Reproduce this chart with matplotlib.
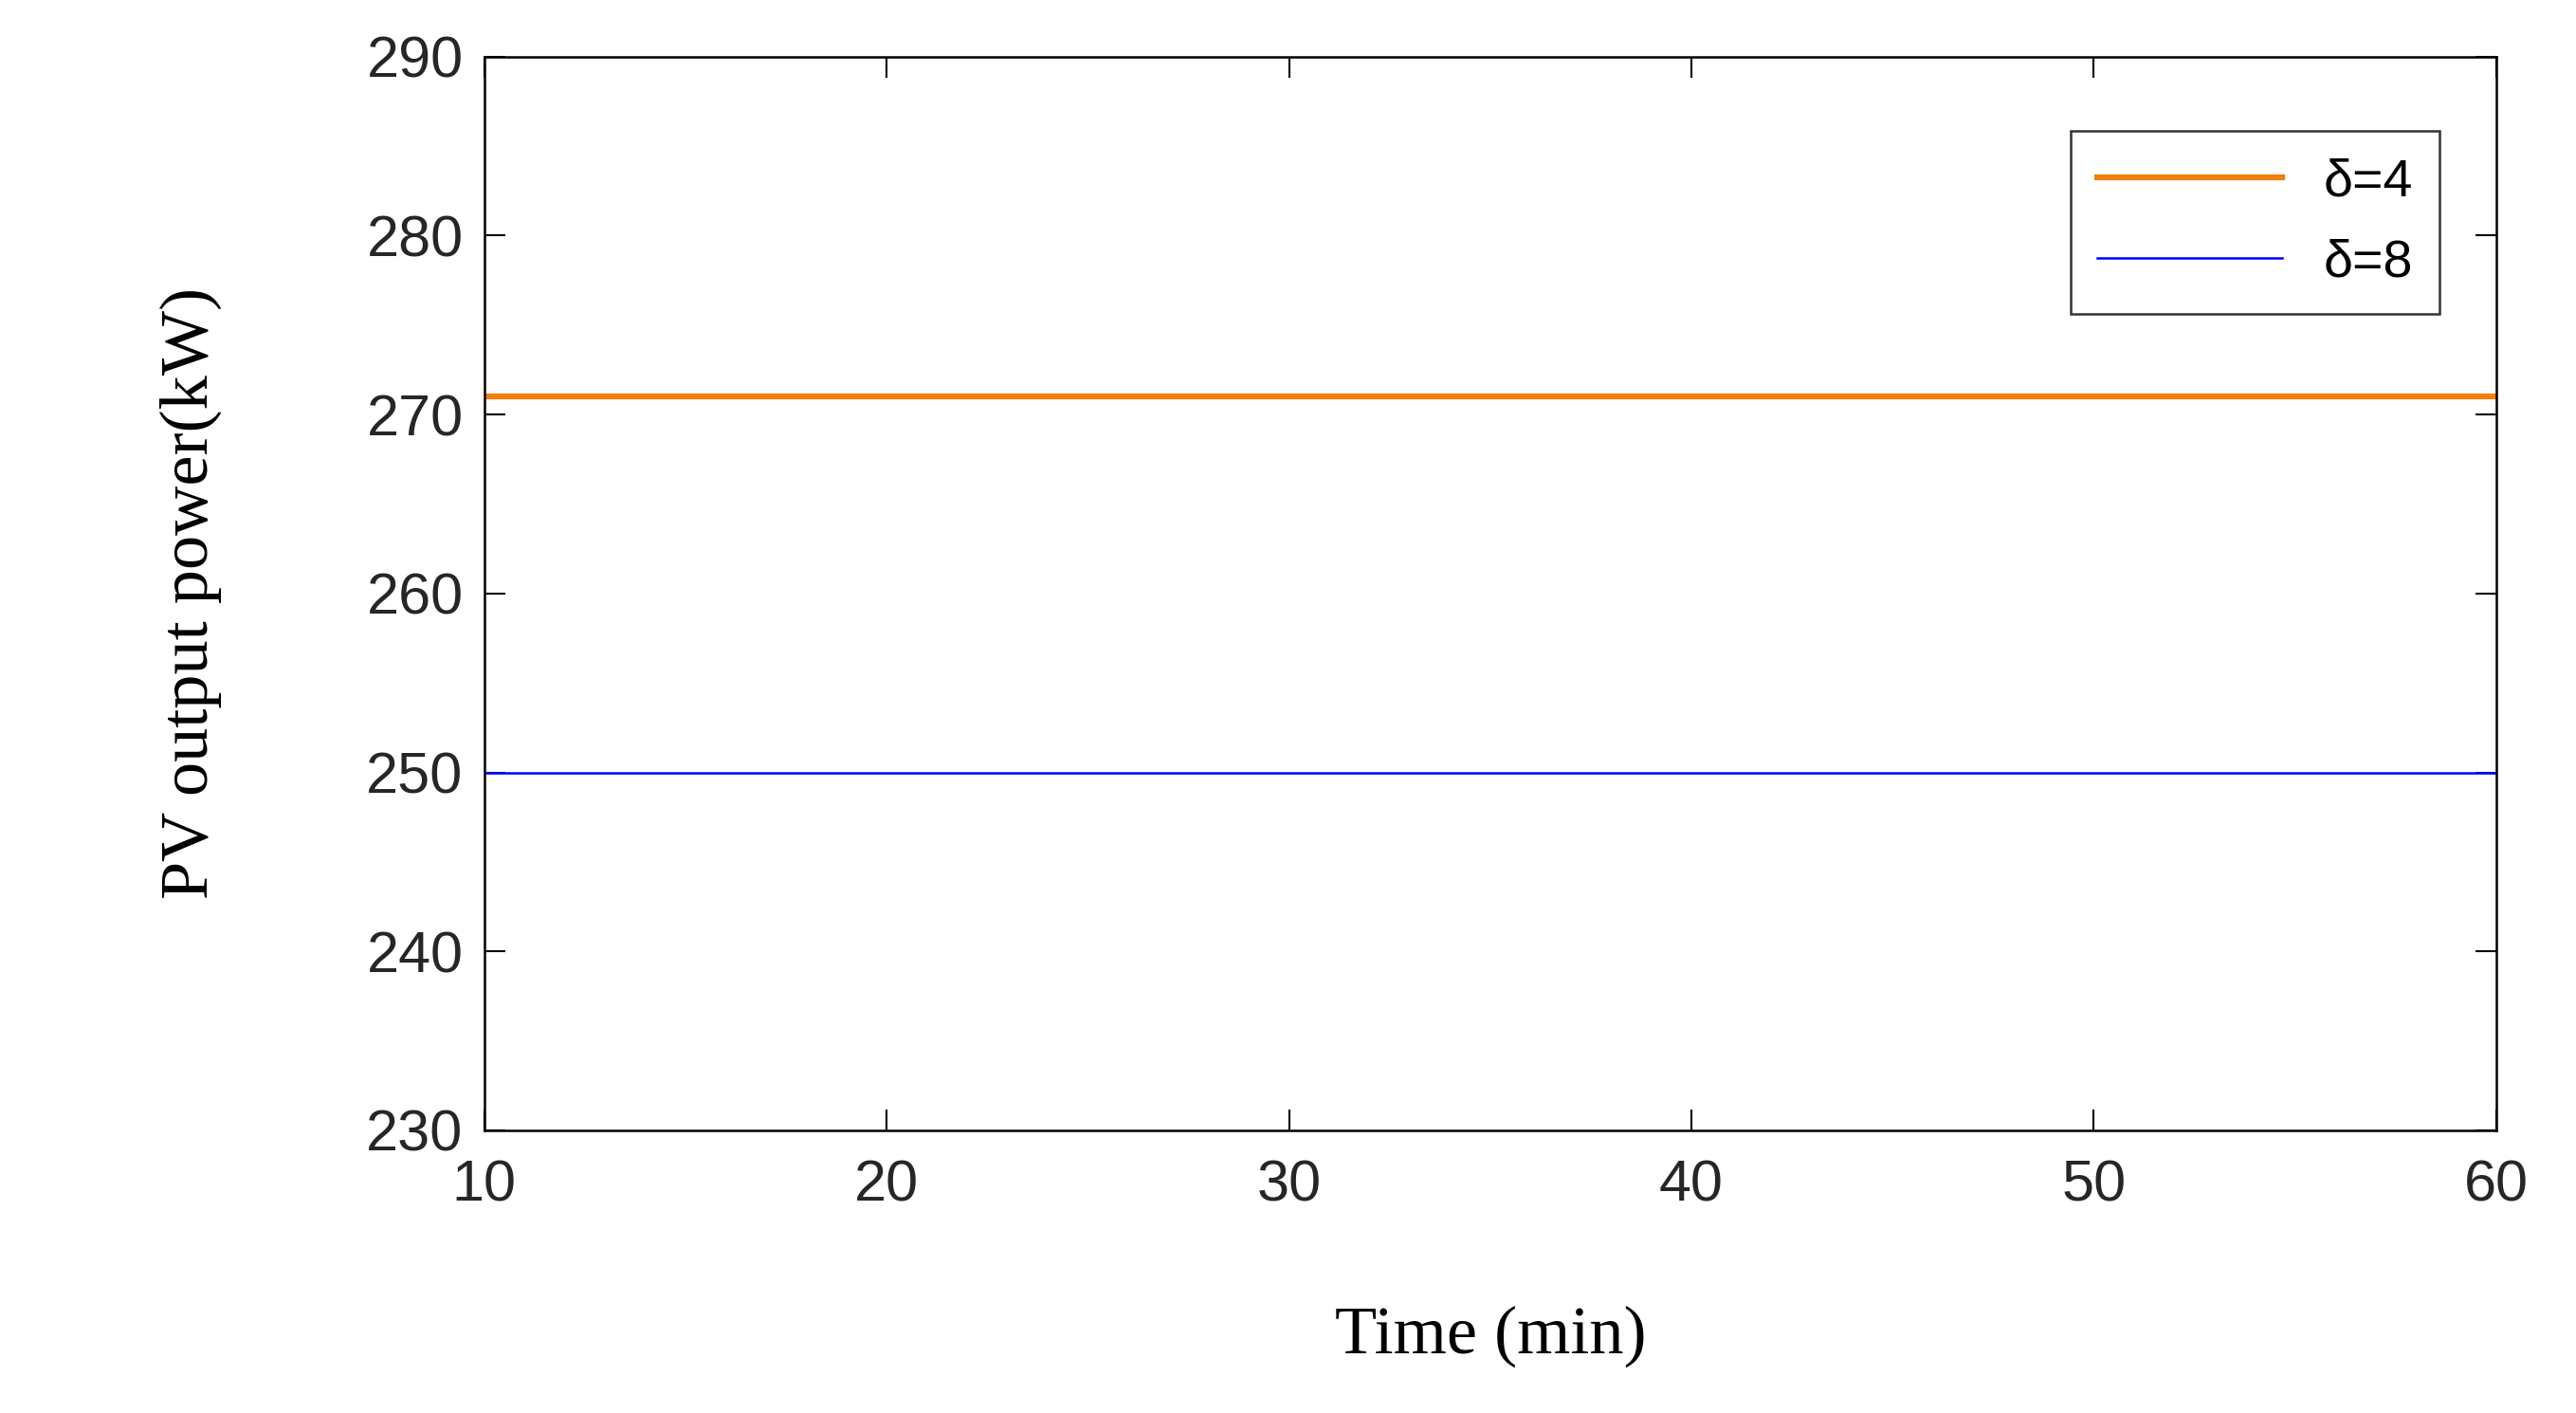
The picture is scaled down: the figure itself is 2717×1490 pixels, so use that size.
import matplotlib
matplotlib.use("Agg")
import matplotlib.pyplot as plt

time = [10, 60]
delta4 = [271, 271]
delta8 = [250, 250]
labels = ["δ=4", "δ=8"]

fig = plt.figure(figsize=(27.17, 14.90), dpi=100)
ax = fig.add_axes([0.188, 0.200, 0.791 - 0.010, 0.760])
ax.plot(time, delta4, color="#F27F0C", lw=4.5, label=labels[0])
ax.plot(time, delta8, color="#0000FF", lw=1.8, label=labels[1])
ax.set_xlim(10, 60)
ax.set_ylim(230, 290)
ax.set_xticks(range(10, 61, 10))
ax.set_yticks(range(230, 291, 10))
ax.tick_params(direction="in", top=True, right=True, length=16, width=1.5, labelsize=44)
ax.tick_params(axis="x", pad=22)
ax.tick_params(axis="y", pad=16)
for lab in ax.get_xticklabels() + ax.get_yticklabels():
    lab.set_fontfamily("Liberation Sans")
    lab.set_color("#262626")
for s in ax.spines.values():
    s.set_linewidth(1.8)
ax.set_xlabel("Time (min)", fontfamily="Liberation Serif", fontsize=52, labelpad=70)
ax.set_ylabel("PV output power(kW)", fontfamily="Liberation Serif", fontsize=52, labelpad=110)
leg = ax.legend(loc="upper right", bbox_to_anchor=(0.985, 0.955), frameon=True,
                fancybox=False, edgecolor="black", handlelength=3.5, borderpad=0.5,
                labelspacing=0.6, prop={"family": "Liberation Sans", "size": 40})
leg.get_frame().set_linewidth(1.8)
fig.savefig("out.png", dpi=100)
